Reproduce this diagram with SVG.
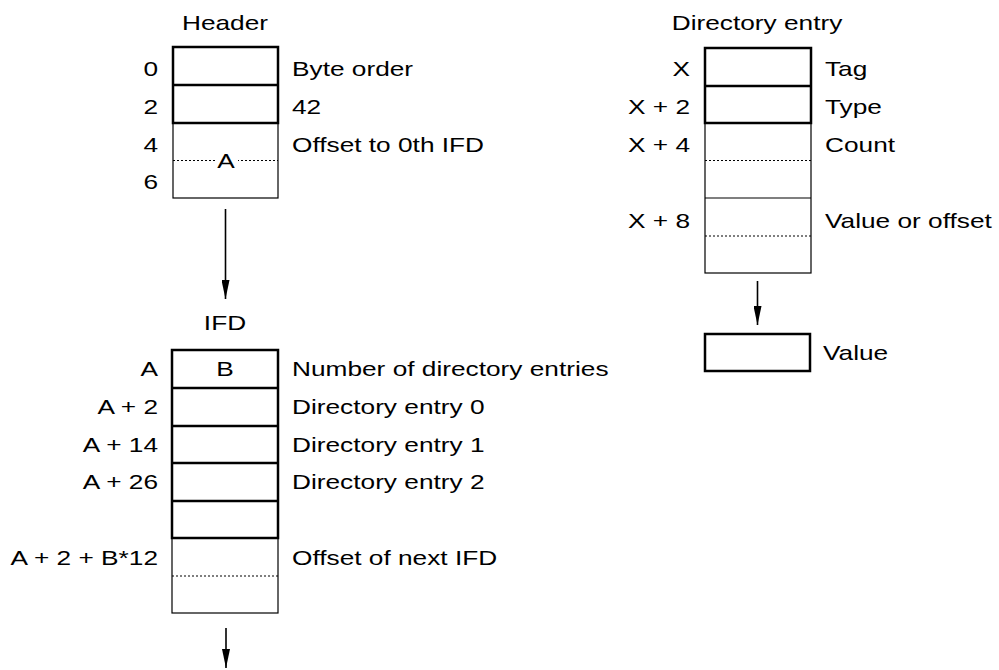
<svg xmlns="http://www.w3.org/2000/svg" width="999" height="670" viewBox="0 0 999 670">
<style>
text{font-family:"Liberation Sans",Arial,sans-serif;font-size:21px;fill:#000}
.e{text-anchor:end}
.m{text-anchor:middle}
.thick{fill:none;stroke:#000;stroke-width:2.5}
.thin{fill:none;stroke:#000;stroke-width:1.2}
.dot{fill:none;stroke:#000;stroke-width:1.1;stroke-dasharray:2 2}
.conn{fill:none;stroke:#000;stroke-width:1.6}
</style>
<defs>
<marker id="ah" markerWidth="19" markerHeight="8" refX="19" refY="4" orient="auto" markerUnits="userSpaceOnUse" viewBox="0 0 19 8">
<path d="M0,0 L19,4 L0,8 Z" fill="#000"/>
</marker>
</defs>
<g id="header">
<text class="m" transform="translate(225 30) scale(1.25 1)">Header</text>
<rect class="thin" x="173" y="123" width="105" height="75"/>
<line class="dot" x1="173" y1="160.5" x2="278" y2="160.5"/>
<rect x="216" y="150" width="22" height="20" fill="#fff"/>
<text class="m" transform="translate(226 168) scale(1.25 1)">A</text>
<rect class="thick" x="173" y="47" width="105" height="76"/>
<line class="thick" x1="173" y1="85" x2="278" y2="85"/>
<text class="e" transform="translate(158 76) scale(1.25 1)">0</text>
<text class="e" transform="translate(158 114) scale(1.25 1)">2</text>
<text class="e" transform="translate(158 152) scale(1.25 1)">4</text>
<text class="e" transform="translate(158 189) scale(1.25 1)">6</text>
<text transform="translate(292 76) scale(1.25 1)">Byte order</text>
<text transform="translate(292 114) scale(1.25 1)">42</text>
<text transform="translate(292 152) scale(1.25 1)">Offset to 0th IFD</text>
</g>
<g id="ifd">
<text class="m" transform="translate(225 330) scale(1.25 1)">IFD</text>
<rect class="thin" x="172" y="538" width="106" height="75"/>
<line class="dot" x1="172" y1="576" x2="278" y2="576"/>
<rect class="thick" x="172" y="350" width="106" height="188"/>
<line class="thick" x1="172" y1="388" x2="278" y2="388"/>
<line class="thick" x1="172" y1="426" x2="278" y2="426"/>
<line class="thick" x1="172" y1="463" x2="278" y2="463"/>
<line class="thick" x1="172" y1="501" x2="278" y2="501"/>
<text class="m" transform="translate(225 376) scale(1.25 1)">B</text>
<text class="e" transform="translate(158 376) scale(1.25 1)">A</text>
<text class="e" transform="translate(158 414) scale(1.25 1)">A + 2</text>
<text class="e" transform="translate(158 452) scale(1.25 1)">A + 14</text>
<text class="e" transform="translate(158 489) scale(1.25 1)">A + 26</text>
<text class="e" transform="translate(158 565) scale(1.25 1)">A + 2 + B*12</text>
<text transform="translate(292 376) scale(1.25 1)">Number of directory entries</text>
<text transform="translate(292 414) scale(1.25 1)">Directory entry 0</text>
<text transform="translate(292 452) scale(1.25 1)">Directory entry 1</text>
<text transform="translate(292 489) scale(1.25 1)">Directory entry 2</text>
<text transform="translate(292 565) scale(1.25 1)">Offset of next IFD</text>
</g>
<g id="entry">
<text class="m" transform="translate(757 30) scale(1.25 1)">Directory entry</text>
<rect class="thin" x="705" y="123" width="106" height="150"/>
<line class="thin" x1="705" y1="198" x2="811" y2="198"/>
<line class="dot" x1="705" y1="160.5" x2="811" y2="160.5"/>
<line class="dot" x1="705" y1="236" x2="811" y2="236"/>
<rect class="thick" x="705" y="48" width="106" height="75"/>
<line class="thick" x1="705" y1="86" x2="811" y2="86"/>
<text class="e" transform="translate(690 76) scale(1.25 1)">X</text>
<text class="e" transform="translate(690 114) scale(1.25 1)">X + 2</text>
<text class="e" transform="translate(690 152) scale(1.25 1)">X + 4</text>
<text class="e" transform="translate(690 228) scale(1.25 1)">X + 8</text>
<text transform="translate(825 76) scale(1.25 1)">Tag</text>
<text transform="translate(825 114) scale(1.25 1)">Type</text>
<text transform="translate(825 152) scale(1.25 1)">Count</text>
<text transform="translate(825 228) scale(1.25 1)">Value or offset</text>
</g>
<g id="value">
<rect class="thick" x="705" y="334" width="105" height="37"/>
<text transform="translate(823 360) scale(1.25 1)">Value</text>
</g>
<g id="connectors">
<line class="conn" x1="225.5" y1="209" x2="225.5" y2="299" marker-end="url(#ah)"/>
<line class="conn" x1="757.5" y1="281" x2="757.5" y2="325" marker-end="url(#ah)"/>
<line class="conn" x1="226" y1="628" x2="226" y2="668" marker-end="url(#ah)"/>
</g>
</svg>
